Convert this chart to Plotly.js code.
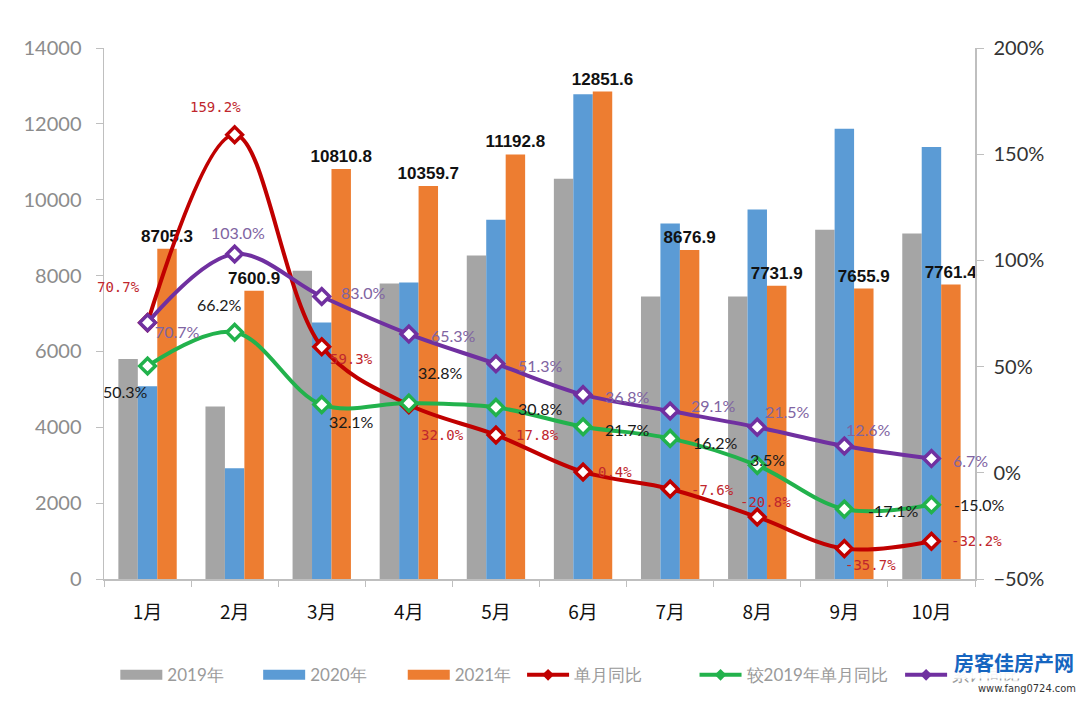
<!DOCTYPE html>
<html>
<head>
<meta charset="utf-8">
<script src="https://cdn.plot.ly/plotly-3.0.1.min.js"></script>
<style>html,body{margin:0;padding:0;background:#fff;}#chart{width:1080px;height:704px;}</style>
</head>
<body>
<div id="chart"></div>
<script>
// ---- data ----
const months = ['1月','2月','3月','4月','5月','6月','7月','8月','9月','10月'];
const sales2019 = [5800, 4550, 8130, 7790, 8530, 10550, 7450, 7450, 9210, 9110];
const sales2020 = [5080, 2920, 6760, 7820, 9470, 12780, 9370, 9740, 11870, 11390];
const sales2021 = [8705.3, 7600.9, 10810.8, 10359.7, 11192.8, 12851.6, 8676.9, 7731.9, 7655.9, 7761.4];
const yoyMonthly = [70.7, 159.2, 59.3, 32.0, 17.8, 0.4, -7.6, -20.8, -35.7, -32.2];
const vs2019Monthly = [50.3, 66.2, 32.1, 32.8, 30.8, 21.7, 16.2, 3.5, -17.1, -15.0];
const yoyCumulative = [70.7, 103.0, 83.0, 65.3, 51.3, 36.8, 29.1, 21.5, 12.6, 6.7];
const seriesNames = ['2019年','2020年','2021年','单月同比','较2019年单月同比','累计同比'];

// ---- label offsets (pixels, style only) ----
const redOff = [[-29,-36],[-19,-28],[30,12],[34,30],[42,0],[32,0],[42,1],[8,-15],[26,16],[45,0]];
const greenOff = [[-22,26],[-15,-28],[30,17],[32,-31],[45,1],[44,3],[45,4],[10,-6],[49,1],[48,0]];
const purpleOff = [[30,9],[3,-22],[42,-4],[45,1],[45,2],[44,2],[43,-5],[30,-16],[24,-17],[39,2]];
// legend entry left positions (paper fraction)
const legendX = [0.013, 0.177, 0.343, 0.48, 0.678, 0.914];

const C = {gray:'#a5a5a5', blue:'#5b9bd5', orange:'#ed7d31', red:'#c00000', green:'#22b24c', purple:'#7030a0'};
const colors = [C.gray, C.blue, C.orange, C.red, C.green, C.purple];

function barTrace(name, y, color, extra) {
  return Object.assign({type:'bar', name:name, x:months, y:y, marker:{color:color}, hoverinfo:'skip', showlegend:false}, extra||{});
}
function lineTrace(name, y, color) {
  return {type:'scatter', mode:'lines+markers', name:name, x:months, y:y, yaxis:'y2', showlegend:false,
    line:{color:color, width:4, shape:'spline', smoothing:1},
    marker:{symbol:'diamond', size:12, color:'#ffffff', line:{color:color, width:3.5}},
    cliponaxis:false, hoverinfo:'skip'};
}
// legend-only keys
function legendKey(i) {
  const isBar = i < 3;
  const legendName = i === 0 ? 'legend' : 'legend' + (i + 1);
  return {type:'scatter', x:[null], y:[null], name:seriesNames[i], legend:legendName,
    mode: isBar ? 'lines' : 'lines+markers',
    line:{color:colors[i], width: isBar ? 14 : 4},
    marker:{symbol:'diamond', size:9, color:colors[i]}, hoverinfo:'skip'};
}

const traces = [
  barTrace(seriesNames[0], sales2019, C.gray),
  barTrace(seriesNames[1], sales2020, C.blue),
  barTrace(seriesNames[2], sales2021, C.orange, {
    text: sales2021.map(v => v.toFixed(1)), textposition:'outside', constraintext:'none', cliponaxis:false,
    textfont:{family:'Liberation Sans, Arial, sans-serif', size:17, color:'#111', weight:'bold'}
  }),
  lineTrace(seriesNames[3], yoyMonthly, C.red),
  lineTrace(seriesNames[4], vs2019Monthly, C.green),
  lineTrace(seriesNames[5], yoyCumulative, C.purple)
].concat(seriesNames.map((n, i) => legendKey(i)));

function labels(vals, offs, font) {
  return vals.map((v,i) => ({
    x: months[i], y: v, xref:'x', yref:'y2', text: v.toFixed(1)+'%', showarrow:false,
    xshift: offs[i][0], yshift: -offs[i][1], font: font
  }));
}
const annotations = [].concat(
  labels(yoyMonthly, redOff, {family:'DejaVu Sans Mono, monospace', size:14, color:'#c0272d'}),
  labels(vs2019Monthly, greenOff, {family:'Lato, Liberation Sans, sans-serif', size:16, color:'#1a1a1a'}),
  labels(yoyCumulative, purpleOff, {family:'Lato, Liberation Sans, sans-serif', size:16, color:'#8064a2'}),
  [
    {xref:'paper', yref:'paper', x:1.045, y:-0.158, xanchor:'center', yanchor:'middle', showarrow:false,
     text:'<b>房客佳房产网</b>', font:{family:'Noto Sans CJK SC', size:20, color:'#1565c0'},
     bgcolor:'rgba(255,255,255,0.92)'},
    {xref:'paper', yref:'paper', x:1.06, y:-0.207, xanchor:'center', yanchor:'middle', showarrow:false,
     text:'www.fang0724.com', font:{family:'DejaVu Sans Condensed, sans-serif', size:11, color:'#333'},
     bgcolor:'rgba(255,255,255,0.92)'}
  ]
);

const legendFont = {family:'Lato, Liberation Sans, sans-serif', size:17, color:'#9a9a9a'};
const layout = {
  width:1080, height:704,
  margin:{l:104, r:105, t:48, b:124},
  paper_bgcolor:'#fff', plot_bgcolor:'#fff',
  barmode:'group', bargap:0.33, bargroupgap:0,
  showlegend:true,
  xaxis:{type:'category', showline:true, linecolor:'#bfbfbf', linewidth:1.5,
    ticks:'outside', tickson:'boundaries', ticklen:6, tickcolor:'#bfbfbf',
    tickfont:{family:'Noto Sans CJK SC, sans-serif', size:19, color:'#111'}, ticklabelstandoff:16,
    showgrid:false, zeroline:false, range:[-0.5, 9.5]},
  yaxis:{range:[0,14000], dtick:2000, tickformat:'d', showline:true, linecolor:'#bfbfbf', linewidth:1.5,
    ticks:'outside', ticklen:7, tickcolor:'#bfbfbf', showgrid:false, zeroline:false,
    tickfont:{family:'Lato, Liberation Sans, sans-serif', size:20, color:'#8c8c8c'}, ticklabelstandoff:10},
  yaxis2:{range:[-50,200], dtick:50, ticksuffix:'%', overlaying:'y', side:'right',
    showline:true, linecolor:'#bfbfbf', linewidth:1.5, ticks:'outside', ticklen:7, tickcolor:'#bfbfbf',
    showgrid:false, zeroline:false,
    tickfont:{family:'Lato, Liberation Sans, sans-serif', size:20, color:'#333'}, ticklabelstandoff:6},
  annotations: annotations
};
legendX.forEach((lx, i) => {
  const key = i === 0 ? 'legend' : 'legend' + (i + 1);
  layout[key] = {orientation:'h', x:lx, xanchor:'left', y:-0.179, yanchor:'middle', font:legendFont,
    itemwidth:42, bgcolor:'rgba(0,0,0,0)'};
});

Plotly.newPlot('chart', traces, layout, {displayModeBar:false, staticPlot:true});
</script>
</body>
</html>
